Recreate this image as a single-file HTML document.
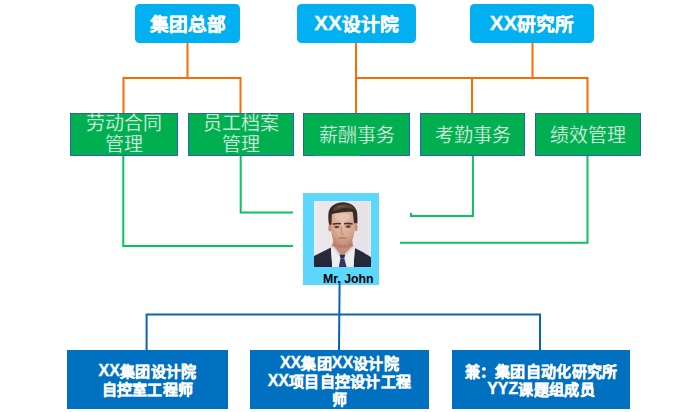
<!DOCTYPE html>
<html lang="zh-CN">
<head>
<meta charset="utf-8">
<style>
html,body{margin:0;padding:0;background:#fff;}
body{width:698px;height:412px;position:relative;overflow:hidden;font-family:"Liberation Sans",sans-serif;}
.a{position:absolute;}
.top{position:absolute;top:4px;height:39px;box-sizing:border-box;padding-top:1px;background:#00B0F0;border-radius:4.5px;color:#fff;font-weight:bold;font-size:18.7px;line-height:39px;text-align:center;-webkit-text-stroke:0.3px #fff;}
.g{position:absolute;top:113px;height:43px;box-sizing:border-box;border:1px solid #2865B0;background:#00B050;color:#fff;font-size:19px;text-align:center;-webkit-text-stroke:0.35px #00B050;display:flex;align-items:center;justify-content:center;line-height:21px;padding-bottom:2px;}
.b{position:absolute;top:350px;height:59px;box-sizing:border-box;padding-top:2px;letter-spacing:0.3px;background:#0070C0;color:#fff;font-size:15px;font-weight:bold;line-height:18px;text-align:center;-webkit-text-stroke:0.35px #fff;display:flex;align-items:center;justify-content:center;}
.l{position:relative;top:-1px;font-size:16px;letter-spacing:0;}
.top .l{font-size:20.5px;top:-1px;}

</style>
</head>
<body>
<!-- lines -->

<!-- top boxes -->
<div class="top" style="left:135px;width:105px">集团总部</div>
<div class="top" style="left:297px;width:119px;padding-top:0"><span class="l">XX</span>设计院</div>
<div class="top" style="left:470px;width:124px;padding-top:0"><span class="l">XX</span>研究所</div>


<!-- green boxes -->
<div class="g" style="left:70px;width:108px">劳动合同<br>管理</div>
<div class="g" style="left:188px;width:106px">员工档案<br>管理</div>
<div class="g" style="left:303px;width:107px;padding:2px 0 0">薪酬事务</div>
<div class="g" style="left:420px;width:105px;padding:2px 0 0">考勤事务</div>
<div class="g" style="left:535px;width:106px;padding:2px 0 0">绩效管理</div>
<div class="a" style="left:314px;top:155px;width:46px;height:1px;background:#00B050"></div>

<!-- photo frame -->
<div class="a" style="left:303px;top:193px;width:76px;height:92px;background:#5DD7FC"></div>
<svg class="a" style="left:314px;top:200.5px" width="57" height="66.5" viewBox="0 0 57 66.5">
  <defs>
    <filter id="bl" x="-10%" y="-10%" width="120%" height="120%"><feGaussianBlur stdDeviation="0.5"/></filter>
    <linearGradient id="bg" x1="0" x2="1" y1="0" y2="0"><stop offset="0" stop-color="#F0EFF1"/><stop offset="0.07" stop-color="#EAE8EB"/><stop offset="0.9" stop-color="#E4E2E6"/><stop offset="1" stop-color="#EAE7EA"/></linearGradient>
    <radialGradient id="sk" cx="0.5" cy="0.3" r="0.65"><stop offset="0" stop-color="#E6C2AE"/><stop offset="0.6" stop-color="#DBAE96"/><stop offset="1" stop-color="#C8927C"/></radialGradient>
    <linearGradient id="su" x1="0" x2="0" y1="0" y2="1"><stop offset="0" stop-color="#2A2D40"/><stop offset="1" stop-color="#23263A"/></linearGradient>
  </defs>
  <rect width="57" height="66.5" fill="url(#bg)"/>
  <g filter="url(#bl)">
  <!-- neck -->
  <path d="M19.5 38 L38 38 L39.5 46.5 L30.6 53.5 L26 53.5 L17.5 46.5 Z" fill="#C68E7A"/>
  <path d="M20.5 41.5 Q28.5 46.5 37 41.5 L38.5 45 Q28.5 49 19 45 Z" fill="#B37A68" opacity="0.8"/>
  <!-- suit -->
  <path d="M0 55 Q8.5 50.8 17 46.5 L18.3 66.5 L0 66.5 Z" fill="url(#su)"/>
  <path d="M57 56.3 Q49.3 50.8 40.8 47 L39.5 66.5 L57 66.5 Z" fill="url(#su)"/>
  <!-- shirt -->
  <path d="M17 46.5 L19.6 45.6 L26 53.5 L30.6 53.5 L38.4 45.6 L40.8 47 L39.5 66.5 L18.3 66.5 Z" fill="#EEEDF0"/>
  <path d="M19.6 45.6 L26 53.5 L25 55 L18.6 47.5 Z" fill="#DCDBE0"/>
  <path d="M38.4 45.6 L30.6 53.5 L31.6 55 L39.6 47.5 Z" fill="#DCDBE0"/>
  <!-- tie -->
  <path d="M25.6 53.4 L31.2 53.4 L30.3 57.6 L26.4 57.6 Z" fill="#2C2C52"/>
  <path d="M26.4 57.4 L30.3 57.4 L32.7 66.5 L24.7 66.5 Z" fill="#36365E"/>
  <!-- ears -->
  <ellipse cx="15.9" cy="27" rx="1.6" ry="3.6" fill="#C68D78"/>
  <ellipse cx="42" cy="26.6" rx="1.6" ry="3.6" fill="#C68D78"/>
  <!-- face -->
  <path d="M16.8 18 C16.8 12 21 10 29 10 C37 10 41.3 12 41.3 18 L40.8 27 C40.6 31 39.8 33.5 39.3 35.5 C38.6 38.5 37.6 40.5 36 42 C33.6 43.8 31 44.4 28.6 44.4 C26.2 44.4 23.6 43.8 21.3 42 C19.8 40.5 18.8 38.5 18.2 35.5 C17.6 33 17 30 16.9 27 Z" fill="url(#sk)"/>
  <!-- jaw shading -->
  <path d="M18 32 C18.8 37.5 22.5 42.5 28.6 44.4 C24.5 44.2 20.5 41 18.8 37 Z" fill="#B98068" opacity="0.6"/>
  <path d="M40 32 C39.2 37.5 35 42.5 28.6 44.4 C33 44.2 37 41 39 37 Z" fill="#B98068" opacity="0.6"/>
  <!-- eye sockets -->
  <ellipse cx="22.8" cy="25.6" rx="3.6" ry="2" fill="#B98470" opacity="0.55"/>
  <ellipse cx="34.2" cy="25.3" rx="3.6" ry="2" fill="#B98470" opacity="0.55"/>
  <!-- hair -->
  <path d="M15.3 24 C14.3 21 14.1 16 14.5 12 C14.9 9 16.3 6.5 18.2 5 C20 3.5 22.5 2.5 25 1.8 C27 1.3 29 1.1 31 1.4 C33 1.7 35 2.2 36.5 2.9 C39 4 41.5 6.5 42.6 9.5 C43.5 12 43.6 17 43.4 22.6 L40 22.3 C39.6 18 39.3 14 38.6 11.2 C36 10.3 32 10.8 28 11.3 C24 11.8 20.5 12.3 17.9 13.2 C17.6 16 17.6 20 17.6 23.4 Z" fill="#3A2A22"/>
  <path d="M19.5 7 C23 4 28 3 33 3.4 C36.5 3.8 39 5.5 40.2 8 C36 6.8 32 6.6 28 7.4 C25 8 22 9 19.8 10.2 Z" fill="#5A4436"/>
  <path d="M23 5.5 C26 4.4 30 4.2 33 4.8 C30 5.4 27 6 24.5 7 Z" fill="#6E5646"/>
  <!-- forehead light -->
  <ellipse cx="28.6" cy="15.5" rx="8" ry="3.5" fill="#EACDBB" opacity="0.55"/>
  <!-- brows -->
  <path d="M18.8 23.1 Q22.5 22.2 27 22.8" stroke="#4A3328" stroke-width="1.6" fill="none"/>
  <path d="M30 22.7 Q34.5 22 38.7 23" stroke="#4A3328" stroke-width="1.6" fill="none"/>
  <!-- eyes -->
  <ellipse cx="22.8" cy="26" rx="2.2" ry="1.1" fill="#4E362C"/>
  <ellipse cx="34.3" cy="25.7" rx="2.2" ry="1.1" fill="#4E362C"/>
  <!-- nose -->
  <path d="M27.6 25.5 L27 32.5 Q28.4 33.8 30.2 32.8" stroke="#B07862" stroke-width="0.8" fill="none"/>
  <!-- mouth -->
  <path d="M24.6 37.3 Q28.5 36.5 32.4 37.3" stroke="#A86A5C" stroke-width="1.1" fill="none"/>
  </g>
</svg>
<svg class="a" style="left:0;top:0" width="698" height="412" viewBox="0 0 698 412" fill="none" stroke-width="2">
<g stroke="#FA6C00">
<path d="M187.5 43V78"/>
<path d="M123.5 113V78H240.5V113"/>
<path d="M356 43V113"/>
<path d="M356 78H587.5V113"/>
<path d="M472 78V113"/>
<path d="M532.5 43V78"/>
</g>
<g stroke="#0CC25E">
<path d="M123.3 156V246H293"/>
<path d="M240.7 156V212.6H293"/>
<path d="M472.9 156V216H411V213"/>
<path d="M587.5 156V242.7H400"/>
</g>
<g stroke="#0A64B4">
<path d="M339.6 281L339 350"/>
<path d="M146.6 350V314.6H540V350"/>
</g>
</svg>
<div class="a" style="left:323px;top:271.5px;font-size:12.3px;font-weight:bold;color:#000;line-height:14px;white-space:nowrap">Mr. John</div>


<!-- bottom boxes -->
<div class="b" style="left:67px;width:161px"><div><span class="l">XX</span>集团设计院<br>自控室工程师</div></div>
<div class="b" style="left:250px;width:179px;padding-top:5.5px"><div><span class="l">XX</span>集团<span class="l">XX</span>设计院<br><span class="l">XX</span>项目自控设计工程<br>师</div></div>
<div class="b" style="left:452px;width:178px"><div>兼：集团自动化研究所<br><span class="l">YYZ</span>课题组成员</div></div>
</body>
</html>
